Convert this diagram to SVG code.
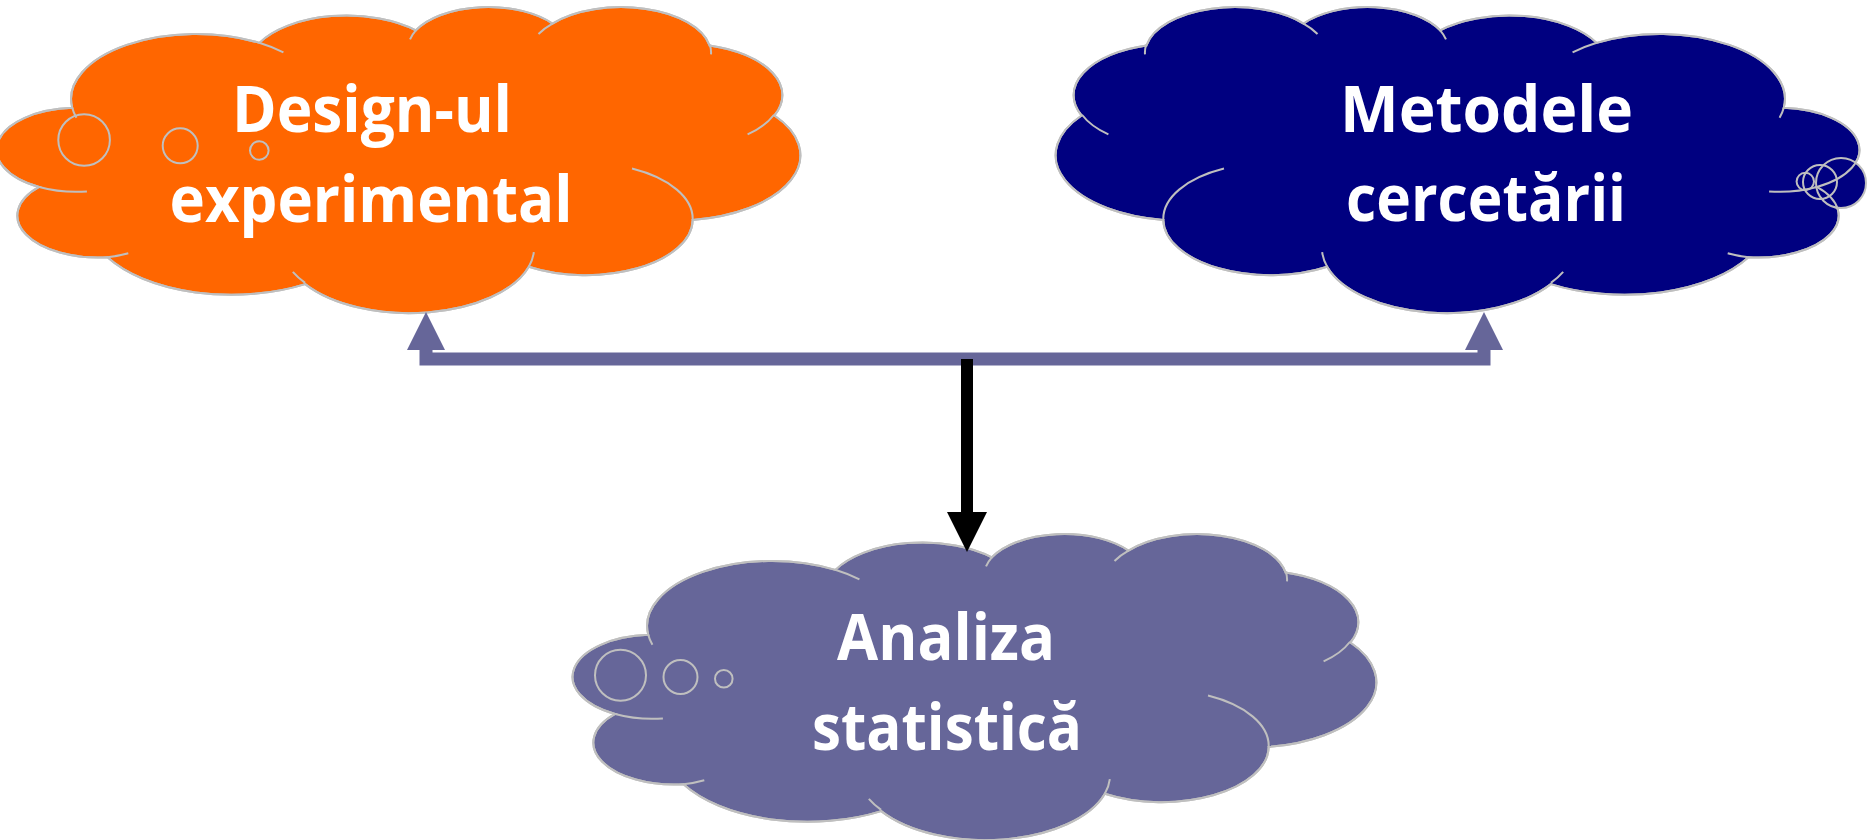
<svg xmlns="http://www.w3.org/2000/svg" xmlns:xlink="http://www.w3.org/1999/xlink" width="1876" height="840" viewBox="0 0 1876 840">
  <style>
    .body { stroke: #BFBFBF; stroke-width: 2; }
    .outline { fill: none; stroke: #BFBFBF; stroke-width: 2; }
    .bubble { stroke: #BFBFBF; stroke-width: 2; }
    .orange { fill: #FF6600; }
    .navy { fill: #000080; }
    .slate { fill: #666699; }
    .label { font-family: "Open Sans", "Liberation Sans", sans-serif; font-weight: 700; font-size: 65px; fill: #FFFFFF; text-anchor: middle; }
    .link { fill: none; stroke-linejoin: miter; }
  </style>
  <defs>
    <!-- cloud outline in a 43200 x 43200 design space, eleven elliptical lobes -->
    <path id="cloud" vector-effect="non-scaling-stroke" d="M3900 14370 A6753 9190 0 0 1 14005 5202 A5333 7267 0 0 1 22456 3432 A4365 5945 0 0 1 29833 2480 A4857 6595 0 0 1 38318 5576 A5333 7273 0 0 1 41818 15459 A6775 9220 0 0 1 37404 30203 A5785 7867 0 0 1 28556 36813 A6752 9215 0 0 1 16481 39265 A7720 10543 0 0 1 5805 35472 A4360 5918 0 0 1 2113 25550 A4345 5945 0 0 1 3900 14370 Z"/>
    <!-- short inner arcs where the lobes fold into the body -->
    <path id="cloud-folds" vector-effect="non-scaling-stroke" d="M4693 26177 A4345 5945 0 0 1 2113 25550 M6928 34899 A4360 5918 0 0 1 5805 35472 M16478 39090 A6752 9215 0 0 1 15813 37524 M28827 34751 A6752 9215 0 0 1 28556 36813 M34129 22954 A5785 7867 0 0 1 37404 30203 M41798 15354 A5333 7273 0 0 1 40370 18135 M38324 5426 A4857 6595 0 0 1 38394 6840 M29078 3952 A4857 6595 0 0 1 29833 2480 M22141 4720 A4365 5945 0 0 1 22456 3432 M14000 5192 A6753 9190 0 0 1 15305 6550 M4127 15789 A6753 9190 0 0 1 3900 14370"/>
    <marker id="head-slate" viewBox="0 -19 38 38" refX="0" refY="0" markerWidth="38" markerHeight="38" markerUnits="userSpaceOnUse" orient="auto-start-reverse" overflow="visible">
      <path d="M0,-19 L38,0 L0,19 Z" fill="#666699"/>
    </marker>
    <marker id="head-black" viewBox="0 -20 40 40" refX="0" refY="0" markerWidth="40" markerHeight="40" markerUnits="userSpaceOnUse" orient="auto" overflow="visible">
      <path d="M0,-20 L40,0 L0,20 Z" fill="#000000"/>
    </marker>
  </defs>

  <rect width="1876" height="840" fill="#FFFFFF"/>

  <!-- Design-ul experimental -->
  <g id="node-design">
    <g transform="translate(0,6) scale(0.0185185,0.0070833)">
      <use xlink:href="#cloud" class="body orange"/>
    </g>
    <path class="bubble orange" d="M58.3 140a25.8 25.8 0 1 0 51.6 0a25.8 25.8 0 1 0 -51.6 0Z M162.7 145.8a17.5 17.5 0 1 0 35 0a17.5 17.5 0 1 0 -35 0Z M250 150.5a9.3 9.3 0 1 0 18.6 0a9.3 9.3 0 1 0 -18.6 0Z"/>
    <g transform="translate(0,6) scale(0.0185185,0.0070833)">
      <use xlink:href="#cloud" class="outline"/>
      <use xlink:href="#cloud-folds" class="outline"/>
    </g>
    <text class="label" x="372" y="132" textLength="280" lengthAdjust="spacingAndGlyphs">Design-ul</text>
    <text class="label" x="371" y="222" textLength="403" lengthAdjust="spacingAndGlyphs">experimental</text>
  </g>

  <!-- Metodele cercetării -->
  <g id="node-metode">
    <g transform="translate(1856,6) scale(-0.0185185,0.0070833)">
      <use xlink:href="#cloud" class="body navy"/>
    </g>
    <path class="bubble navy" d="M1816 183a25 25 0 1 0 50 0a25 25 0 1 0 -50 0Z M1803 182a17 17 0 1 0 34 0a17 17 0 1 0 -34 0Z M1796.6 181.5a8.7 8.7 0 1 0 17.4 0a8.7 8.7 0 1 0 -17.4 0Z"/>
    <g transform="translate(1856,6) scale(-0.0185185,0.0070833)">
      <use xlink:href="#cloud" class="outline"/>
      <use xlink:href="#cloud-folds" class="outline"/>
    </g>
    <text class="label" x="1486.5" y="132" textLength="293" lengthAdjust="spacingAndGlyphs">Metodele</text>
    <text class="label" x="1486" y="221" textLength="280" lengthAdjust="spacingAndGlyphs">cercetării</text>
  </g>

  <!-- Analiza statistică -->
  <g id="node-analiza">
    <g transform="translate(576,533) scale(0.0185185,0.0070833)">
      <use xlink:href="#cloud" class="body slate"/>
    </g>
    <path class="bubble slate" d="M595 675.3a25.5 25.5 0 1 0 51 0a25.5 25.5 0 1 0 -51 0Z M663.5 677a17 17 0 1 0 34 0a17 17 0 1 0 -34 0Z M715 678.7a8.8 8.8 0 1 0 17.6 0a8.8 8.8 0 1 0 -17.6 0Z"/>
    <g transform="translate(576,533) scale(0.0185185,0.0070833)">
      <use xlink:href="#cloud" class="outline"/>
      <use xlink:href="#cloud-folds" class="outline"/>
    </g>
    <text class="label" x="946" y="660" textLength="218" lengthAdjust="spacingAndGlyphs">Analiza</text>
    <text class="label" x="947" y="750" textLength="270" lengthAdjust="spacingAndGlyphs">statistică</text>
  </g>

  <!-- connectors -->
  <g id="connectors">
    <path class="link" d="M426 350 V359 H1484 V350" stroke="#666699" stroke-width="13" marker-start="url(#head-slate)" marker-end="url(#head-slate)"/>
    <path class="link" d="M967 359 V512" stroke="#000000" stroke-width="12" marker-end="url(#head-black)"/>
  </g>
</svg>
